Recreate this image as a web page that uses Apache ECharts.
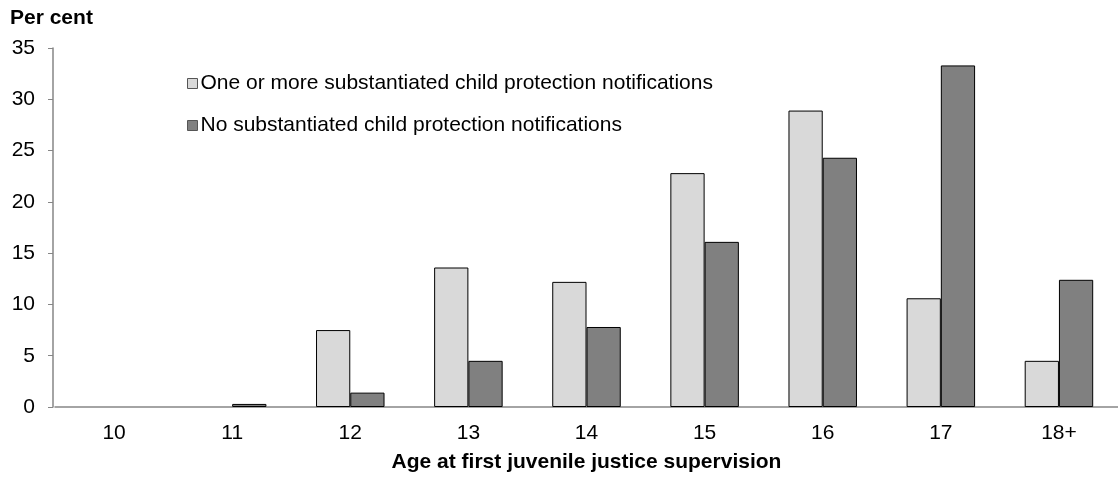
<!DOCTYPE html>
<html><head><meta charset="utf-8">
<script src="https://cdn.jsdelivr.net/npm/echarts@6/dist/echarts.min.js"></script>
<style>html,body{margin:0;padding:0;background:#fff}#c{width:1118px;height:479px}</style>
</head><body><div id="c"></div>
<script>
const categories = ['10','11','12','13','14','15','16','17','18+'];
const seriesNames = ['One or more substantiated child protection notifications','No substantiated child protection notifications'];
const withNotifications = [0, 0, 7.5, 13.6, 12.2, 22.8, 28.9, 10.6, 4.5];
const withoutNotifications = [0, 0.3, 1.4, 4.5, 7.8, 16.1, 24.3, 33.3, 12.4];
const yTicks = [0, 5, 10, 15, 20, 25, 30, 35];

const font = 'Liberation Sans, Arial, sans-serif';
const FS = 21;
// zero-height bars are drawn without an outline (as in the reference)
const toBarData = arr => arr.map(v => v === 0 ? {value: v, itemStyle: {borderWidth: 0}} : v);

const chart = echarts.init(document.getElementById('c'), null, {renderer: 'canvas'});
chart.setOption({
  animation: false,
  textStyle: {fontFamily: font},
  grid: {left: 55, right: -5, top: 48, bottom: 72, containLabel: false},
  legend: {
    orient: 'vertical', left: 182, top: 68, itemGap: 21,
    itemWidth: 10, itemHeight: 10, icon: 'rect',
    textStyle: {fontSize: FS, color: '#000', fontFamily: font, padding: [0,0,0,-2]},
    data: seriesNames.map(n => ({name: n, itemStyle: {borderColor: '#555', borderWidth: 1}}))
  },
  title: {text: 'Per cent', left: 5, top: 3, textStyle: {fontSize: FS, fontWeight: 'bold', color: '#000', fontFamily: font}},
  xAxis: {
    type: 'category', data: categories,
    axisLine: {lineStyle: {color: '#868686', width: 1.5}},
    axisTick: {alignWithLabel: true, length: 5, lineStyle: {color: '#868686'}},
    axisLabel: {fontSize: FS, color: '#000', margin: 16, fontFamily: font},
    name: 'Age at first juvenile justice supervision', nameLocation: 'middle', nameGap: 45,
    nameTextStyle: {fontSize: FS, fontWeight: 'bold', color: '#000', fontFamily: font}
  },
  yAxis: {
    type: 'value', min: yTicks[0], max: yTicks[yTicks.length-1], interval: 5, offset: 2,
    axisLine: {show: true, lineStyle: {color: '#868686', width: 1.5}},
    axisTick: {show: true, length: 5, lineStyle: {color: '#868686'}},
    axisLabel: {fontSize: FS, color: '#000', margin: 18, fontFamily: font},
    splitLine: {show: false}
  },
  series: [
    {name: seriesNames[0], type: 'bar', data: toBarData(withNotifications), barGap: '0%', barCategoryGap: '42%',
     itemStyle: {color: '#d9d9d9', borderColor: '#000', borderWidth: 1}},
    {name: seriesNames[1], type: 'bar', data: toBarData(withoutNotifications), barGap: '0%', barCategoryGap: '42%',
     itemStyle: {color: '#808080', borderColor: '#000', borderWidth: 1}}
  ]
});
</script></body></html>
